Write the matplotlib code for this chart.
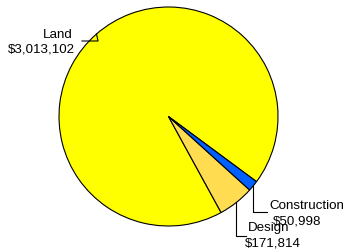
import numpy as np
import matplotlib.pyplot as plt

# slice data
labels = ['Land', 'Design', 'Construction']
values = [3013102, 171814, 50998]
colors = ['#FFFF00', '#FFDC50', '#0060FF']

W, H = 344, 253
fig = plt.figure(figsize=(W / 100, H / 100), dpi=100)
ax = fig.add_axes([0, 0, 1, 1])

# pie geometry in pixel units (y up)
cx, cy, r = 168.5, H - 117.5, 109.5
start = -36.5

wedges, _ = ax.pie(values, colors=colors, startangle=start, center=(cx, cy),
                   radius=r, frame=True,
                   wedgeprops=dict(edgecolor='black', linewidth=0.8))
ax.set_xlim(0, W)
ax.set_ylim(0, H)
ax.axis('off')

font = dict(family='Liberation Sans', fontsize=9.6, color='black')


def edge_pt(w):
    a = np.deg2rad((w.theta1 + w.theta2) / 2)
    return cx + r * np.cos(a), cy + r * np.sin(a)


def money(v):
    return f"${v:,}"


# Land: label top-left
x0, y0 = edge_pt(wedges[0])
ax.plot([x0, x0 + 1.5, 82], [y0, H - 42, H - 42], color='black', lw=0.8)
ax.text(43, H - 35, labels[0], ha='left', va='center', **font)
ax.text(8, H - 49.5, money(values[0]), ha='left', va='center', **font)

# Design: label below right
x1, y1 = edge_pt(wedges[1])
ax.plot([x1, x1, 246], [y1, H - 236.5, H - 236.5], color='black', lw=0.8)
ax.text(248, H - 228, labels[1], ha='left', va='center', **font)
ax.text(245, H - 244, money(values[1]), ha='left', va='center', **font)

# Construction: label right
x2, y2 = edge_pt(wedges[2])
ax.plot([x2, x2, 267], [y2, H - 212.5, H - 212.5], color='black', lw=0.8)
ax.text(269, H - 206.5, labels[2], ha='left', va='center', **font)
ax.text(273, H - 221.5, money(values[2]), ha='left', va='center', **font)

fig.savefig('out.png', dpi=100)
